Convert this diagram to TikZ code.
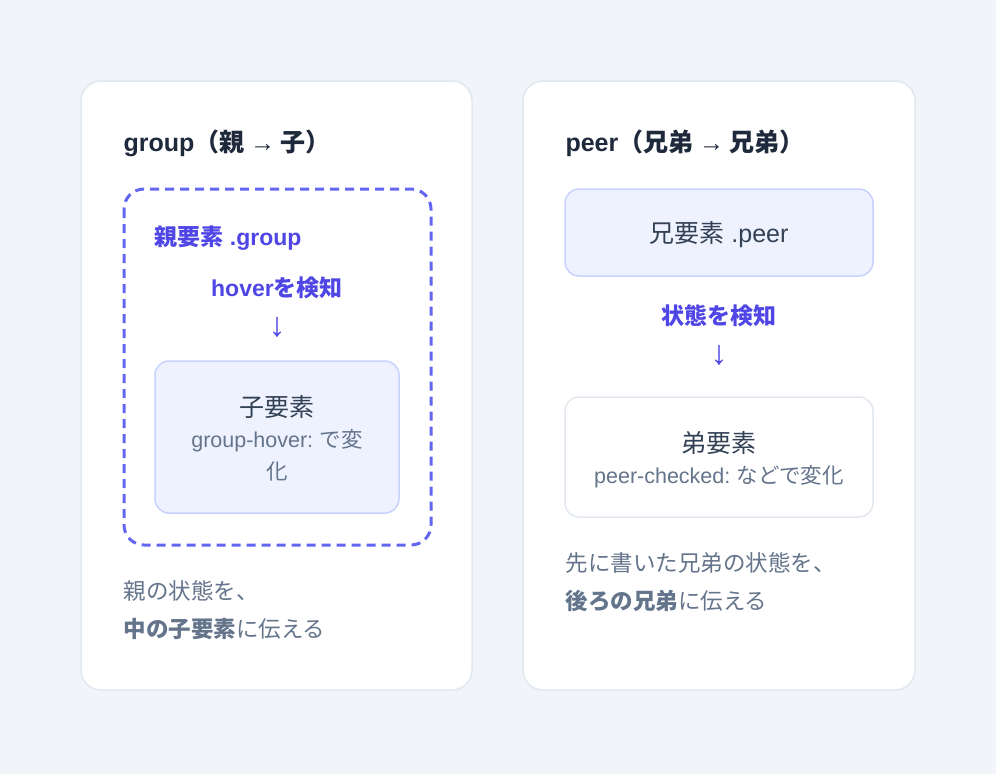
\documentclass[tikz,border=0pt]{standalone}
\usepackage{fontspec}
\setmainfont{Noto Sans CJK JP}
\newfontfamily\lat{Liberation Sans}
\definecolor{bg}{HTML}{F1F4F9}
\definecolor{cardb}{HTML}{E2E8F0}
\definecolor{ind}{HTML}{6366F1}
\definecolor{indt}{HTML}{4F46E5}
\definecolor{dark}{HTML}{1E293B}
\definecolor{mid}{HTML}{334155}
\definecolor{gray}{HTML}{64748B}
\definecolor{lbox}{HTML}{EEF2FF}
\definecolor{lboxb}{HTML}{C7D2FE}
\begin{document}
\begin{tikzpicture}[x=1pt,y=-1pt,
 card/.style={fill=white,draw=cardb,line width=1.5pt,rounded corners=20pt},
 title/.style={anchor=west,font=\fontsize{25}{28}\selectfont\bfseries,text=dark},
 lab/.style={font=\fontsize{23}{26}\selectfont\bfseries,text=indt},
 arrow/.style={font=\lat\fontsize{34}{36}\selectfont,text=indt},
 main/.style={font=\fontsize{25}{28}\selectfont,text=mid},
 sub/.style={font=\fontsize{21.5}{24}\selectfont,text=gray},
 note/.style={anchor=west,font=\fontsize{22.5}{26}\selectfont,text=gray}]
\fill[bg] (0,0) rectangle (996,774);
\useasboundingbox (0,0) rectangle (996,774);
% left card
\draw[card] (81,81) rectangle (472,690);
\node[title] (t1) at (120,143) {{\lat group}（親 {\lat →} 子）};
\draw[draw=ind,line width=3pt,dash pattern=on 9pt off 6pt,rounded corners=20pt] (124,189) rectangle (431,545);
\node[lab,anchor=west] (pg) at (151,238) {親要素{\lat\ .group}};
\node[lab] (hv) at (277,288) {{\lat hover}を検知};
\node[arrow] (a1) at (277,327) {↓};
\draw[fill=lbox,draw=lboxb,line width=1.5pt,rounded corners=14pt] (155,361) rectangle (399,513);
\node[main] (c1) at (277,407) {子要素};
\node[sub] (c1a) at (277,441) {{\lat group-hover:} で変};
\node[sub] (c1b) at (277,471) {化};
\node[note] (n1) at (120,591) {親の状態を、};
\node[note] (n2) at (120,629) {\textbf{中の子要素}に伝える};
% right card
\draw[card] (523,81) rectangle (915,690);
\node[title] (t2) at (562,143) {{\lat peer}（兄弟 {\lat →} 兄弟）};
\draw[fill=lbox,draw=lboxb,line width=1.5pt,rounded corners=14pt] (565,189) rectangle (873,276);
\node[main] (b1) at (719,235) {兄要素{\lat\ .peer}};
\node[lab] (st) at (719,316) {状態を検知};
\node[arrow] (a2) at (719,355) {↓};
\draw[fill=white,draw=cardb,line width=1.5pt,rounded corners=14pt] (565,397) rectangle (873,517);
\node[main] (b2) at (719,443) {弟要素};
\node[sub] (b2a) at (719,477) {{\lat peer-checked:} などで変化};
\node[note] (n3) at (562,563) {先に書いた兄弟の状態を、};
\node[note] (n4) at (562,601) {\textbf{後ろの兄弟}に伝える};
\end{tikzpicture}
\end{document}
